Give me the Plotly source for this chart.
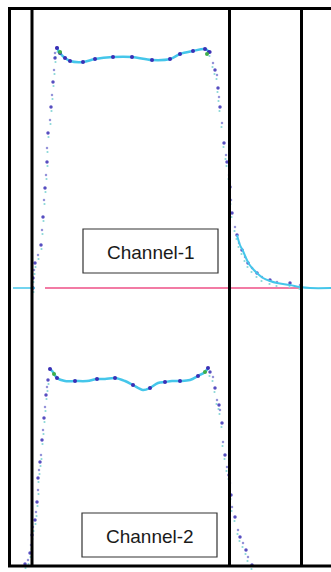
import plotly.graph_objects as go

# ---- Data (in chart units: x to the right, y downward) ----
# Channel 1 plateau (line + markers)
ch1_top_x = [57, 60, 65, 70, 83, 95, 113, 132, 152, 170, 180, 193, 205, 209]
ch1_top_y = [48, 53, 58, 61, 62, 59, 57, 57, 60, 59, 54, 51, 49, 52]
# Channel 1 left edge (dots)
ch1_left_x = [57, 55, 55, 54, 53, 52, 51, 50, 48, 47, 47, 46, 45, 44, 43, 42, 41, 38, 35, 34, 33, 32, 33]
ch1_left_y = [48, 53, 58, 70, 82, 95, 107, 120, 133, 148, 162, 175, 188, 200, 217, 230, 245, 255, 263, 270, 278, 283, 288]
# Channel 1 right edge (dots)
ch1_right_x = [210, 213, 215, 217, 218, 219, 220, 222, 224, 226, 227, 229, 230, 231, 232, 235, 237, 239, 242, 245, 248, 252, 257, 262, 270, 277, 290, 300]
ch1_right_y = [52, 63, 70, 75, 88, 97, 107, 123, 143, 155, 162, 175, 187, 200, 213, 227, 235, 243, 250, 257, 263, 268, 273, 277, 280, 282, 283, 285]
# Channel 1 fitted tail (cyan line)
ch1_tail_x = [237, 240, 243, 246, 249, 253, 258, 263, 270, 277, 290, 300, 310, 331]
ch1_tail_y = [235, 245, 251, 258, 264, 269, 274, 278, 281, 283, 285, 287, 288, 288]
ch1_base_x = [13, 35]
ch1_base_y = [288, 288]
# Reference (pink) line
ref_x = [45, 300]
ref_y = [288, 288]

# Channel 2 plateau
ch2_top_x = [50, 53, 57, 65, 75, 87, 97, 105, 115, 125, 133, 143, 150, 158, 165, 172, 180, 190, 198, 205, 208]
ch2_top_y = [369, 372, 378, 381, 381, 381, 379, 379, 378, 381, 385, 390, 388, 383, 382, 381, 381, 380, 376, 372, 368]
# Channel 2 left edge
ch2_left_x = [48, 47, 46, 45, 44, 43, 42, 41, 40, 39, 38, 38, 37, 36, 35, 33, 32, 31, 30, 28, 25]
ch2_left_y = [380, 387, 395, 407, 418, 430, 440, 455, 462, 470, 478, 490, 502, 512, 520, 527, 535, 545, 553, 560, 564]
# Channel 2 right edge
ch2_right_x = [210, 213, 215, 217, 219, 220, 222, 223, 225, 227, 229, 230, 231, 232, 235, 238, 240, 243, 246, 248, 252]
ch2_right_y = [372, 377, 388, 400, 405, 410, 423, 442, 455, 467, 475, 483, 495, 507, 517, 530, 537, 543, 550, 557, 565]

labels = ["Channel-1", "Channel-2"]

BLUE = "#3a2fb5"
CYAN = "#45c6ea"
TEAL = "#8ad8d8"
GREEN = "#3fae4a"
PINK = "#ee4f86"

fig = go.Figure()

# pink reference line
fig.add_trace(go.Scatter(x=ref_x, y=ref_y, mode="lines", line=dict(color=PINK, width=1.5), hoverinfo="skip"))

def edge(xs, ys, dx):
    fig.add_trace(go.Scatter(x=[v + dx for v in xs], y=[v + 4 for v in ys], mode="markers",
                             marker=dict(color=TEAL, size=2.2), hoverinfo="skip"))
    fig.add_trace(go.Scatter(x=xs[::2], y=ys[::2], mode="markers",
                             marker=dict(color=BLUE, size=3.5, opacity=0.85), hoverinfo="skip"))
    fig.add_trace(go.Scatter(x=xs[1::2], y=ys[1::2], mode="markers",
                             marker=dict(color="#7a78d0", size=2.5, opacity=0.8), hoverinfo="skip"))

# channel 1
edge(ch1_left_x, ch1_left_y, 0.5)
edge(ch1_right_x, ch1_right_y, -0.5)
fig.add_trace(go.Scatter(x=ch1_top_x, y=ch1_top_y, mode="lines", line=dict(color=CYAN, width=2.5, shape="spline"), hoverinfo="skip"))
fig.add_trace(go.Scatter(x=ch1_top_x, y=ch1_top_y, mode="markers", marker=dict(color=BLUE, size=4), hoverinfo="skip"))
fig.add_trace(go.Scatter(x=ch1_tail_x, y=ch1_tail_y, mode="lines", line=dict(color=CYAN, width=2, shape="spline"), hoverinfo="skip"))
fig.add_trace(go.Scatter(x=ch1_base_x, y=ch1_base_y, mode="lines", line=dict(color=CYAN, width=1.5), hoverinfo="skip"))
fig.add_trace(go.Scatter(x=[ch1_top_x[0] + 3, ch1_top_x[-1] - 2], y=[ch1_top_y[0] + 4, ch1_top_y[-1] + 2], mode="markers",
                         marker=dict(color=GREEN, size=4), hoverinfo="skip"))

# channel 2
edge(ch2_left_x, ch2_left_y, 0.5)
edge(ch2_right_x, ch2_right_y, -0.5)
fig.add_trace(go.Scatter(x=ch2_top_x, y=ch2_top_y, mode="lines", line=dict(color=CYAN, width=2.5, shape="spline"), hoverinfo="skip"))
fig.add_trace(go.Scatter(x=ch2_top_x[::2], y=ch2_top_y[::2], mode="markers", marker=dict(color=BLUE, size=4), hoverinfo="skip"))
fig.add_trace(go.Scatter(x=[ch2_top_x[0] + 4, ch2_top_x[-1] - 3], y=[ch2_top_y[0] + 5, ch2_top_y[-1] + 4], mode="markers",
                         marker=dict(color=GREEN, size=4), hoverinfo="skip"))

shapes = []
# frame lines
shapes.append(dict(type="line", x0=8, x1=331, y0=8.5, y1=8.5, line=dict(color="black", width=3)))
shapes.append(dict(type="line", x0=8, x1=331, y0=566, y1=566, line=dict(color="black", width=3)))
shapes.append(dict(type="line", x0=9.5, x1=9.5, y0=7, y1=567, line=dict(color="black", width=3)))
for xv in [32, 229.5, 301.5]:
    shapes.append(dict(type="line", x0=xv, x1=xv, y0=8, y1=566, line=dict(color="black", width=3)))
# label boxes
shapes.append(dict(type="rect", x0=83, x1=218, y0=229, y1=273, line=dict(color="#333333", width=1.2), fillcolor="white"))
shapes.append(dict(type="rect", x0=82, x1=217, y0=513, y1=557, line=dict(color="#333333", width=1.2), fillcolor="white"))

annotations = [
    dict(x=150.5, y=252, text=labels[0], showarrow=False, font=dict(family="Liberation Sans, Arial", size=19, color="#1a1a1a")),
    dict(x=149.5, y=536, text=labels[1], showarrow=False, font=dict(family="Liberation Sans, Arial", size=19, color="#1a1a1a")),
]

fig.update_layout(
    width=331, height=572, margin=dict(l=0, r=0, t=0, b=0),
    paper_bgcolor="white", plot_bgcolor="white", showlegend=False,
    xaxis=dict(range=[0, 331], visible=False, fixedrange=True),
    yaxis=dict(range=[572, 0], visible=False, fixedrange=True),
    shapes=shapes, annotations=annotations,
)

fig.write_html("out.html", config=dict(displayModeBar=False))
